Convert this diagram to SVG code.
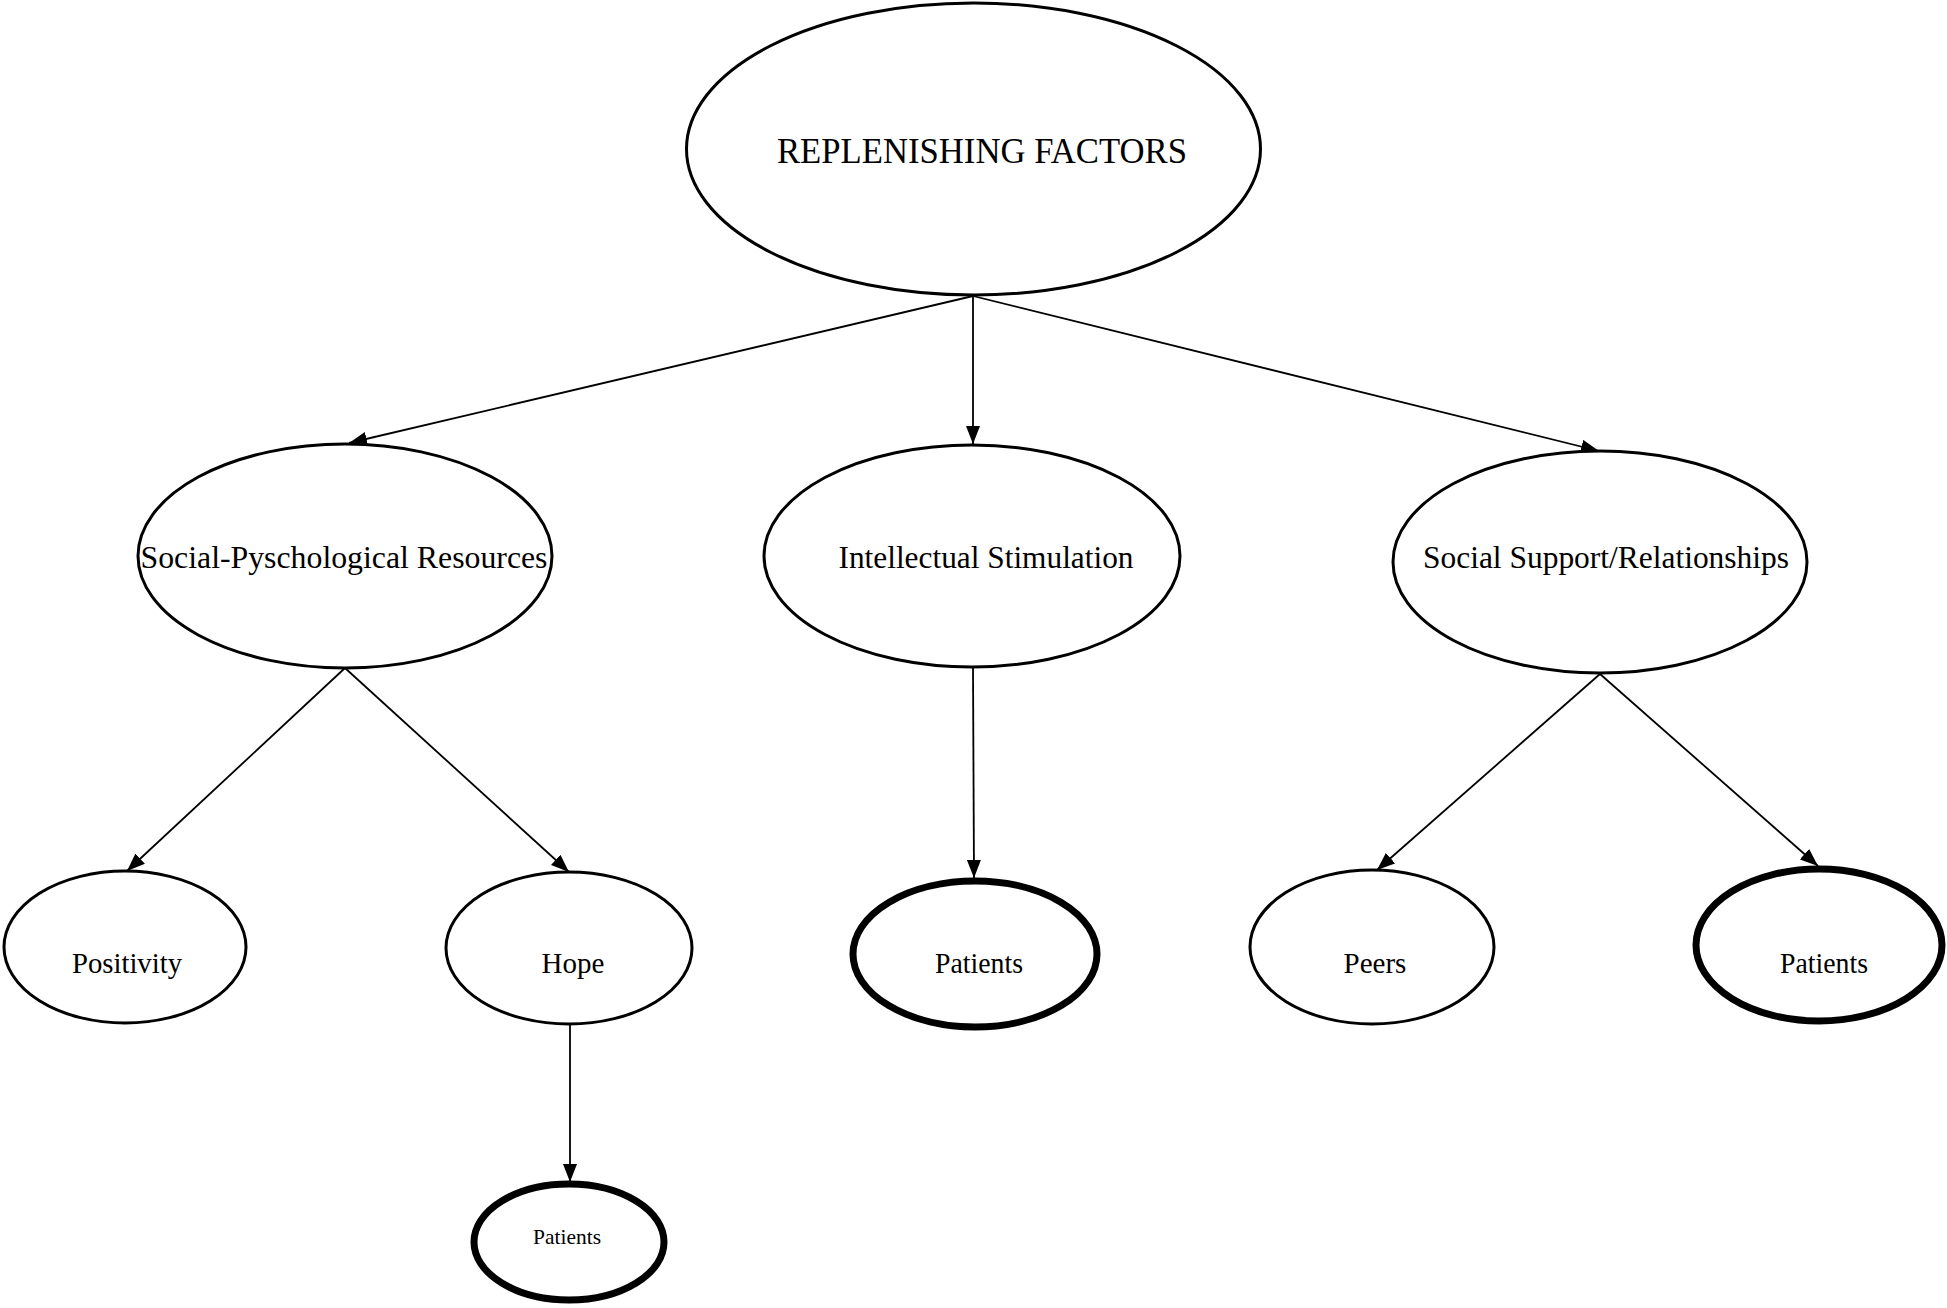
<svg xmlns="http://www.w3.org/2000/svg" width="1947" height="1308" viewBox="0 0 1947 1308">
<defs>
<style>
.n{fill:#fff;stroke:#000;stroke-width:3}
.t{fill:#fff;stroke:#000;stroke-width:7}
text{font-family:"Liberation Serif","Times New Roman",serif;fill:#000;text-anchor:middle}
.c line{stroke:#000;stroke-width:1.8;marker-end:url(#ah)}
</style>
<marker id="ah" markerUnits="userSpaceOnUse" markerWidth="18" markerHeight="14" refX="18" refY="7" orient="auto"><path d="M0,0 L18,7 L0,14 z" fill="#000"/></marker>
</defs>
<rect width="1947" height="1308" fill="#fff"/>
<g class="c" id="connectors">
<line x1="973" y1="296" x2="349" y2="443"/>
<line x1="973" y1="296" x2="973" y2="444"/>
<line x1="973" y1="296" x2="1599" y2="451"/>
<line x1="345" y1="668" x2="127" y2="871"/>
<line x1="345" y1="668" x2="569" y2="872"/>
<line x1="973" y1="667" x2="974" y2="878"/>
<line x1="1600" y1="674" x2="1377" y2="870"/>
<line x1="1600" y1="674" x2="1818" y2="866"/>
<line x1="570" y1="1023" x2="570" y2="1182"/>
</g>
<g id="n-root"><ellipse class="n" cx="973.5" cy="149" rx="287" ry="146"/><text x="982" y="163" font-size="35" textLength="410" lengthAdjust="spacingAndGlyphs">REPLENISHING FACTORS</text></g>
<g id="n-social-psych"><ellipse class="n" cx="345" cy="556" rx="207" ry="112"/><text x="344" y="568" font-size="31" textLength="407" lengthAdjust="spacingAndGlyphs">Social-Pyschological Resources</text></g>
<g id="n-intellectual"><ellipse class="n" cx="972" cy="556" rx="208" ry="111"/><text x="986" y="568" font-size="31" textLength="295" lengthAdjust="spacingAndGlyphs">Intellectual Stimulation</text></g>
<g id="n-social-support"><ellipse class="n" cx="1600" cy="562" rx="207" ry="111"/><text x="1606" y="568" font-size="31" textLength="366" lengthAdjust="spacingAndGlyphs">Social Support/Relationships</text></g>
<g id="n-positivity"><ellipse class="n" cx="125" cy="947" rx="121" ry="76"/><text x="127" y="973" font-size="29" textLength="110" lengthAdjust="spacingAndGlyphs">Positivity</text></g>
<g id="n-hope"><ellipse class="n" cx="569" cy="948" rx="123" ry="76"/><text x="573" y="973" font-size="29">Hope</text></g>
<g id="n-patients-mid"><ellipse class="t" cx="975" cy="954" rx="122" ry="73"/><text x="979" y="973" font-size="29" textLength="88" lengthAdjust="spacingAndGlyphs">Patients</text></g>
<g id="n-peers"><ellipse class="n" cx="1372" cy="947" rx="122" ry="77"/><text x="1375" y="973" font-size="29">Peers</text></g>
<g id="n-patients-right"><ellipse class="t" cx="1819" cy="945" rx="123" ry="76"/><text x="1824" y="973" font-size="29" textLength="88" lengthAdjust="spacingAndGlyphs">Patients</text></g>
<g id="n-patients-bottom"><ellipse class="t" cx="569" cy="1242" rx="95" ry="58"/><text x="567" y="1244" font-size="22" textLength="68" lengthAdjust="spacingAndGlyphs">Patients</text></g>
</svg>
